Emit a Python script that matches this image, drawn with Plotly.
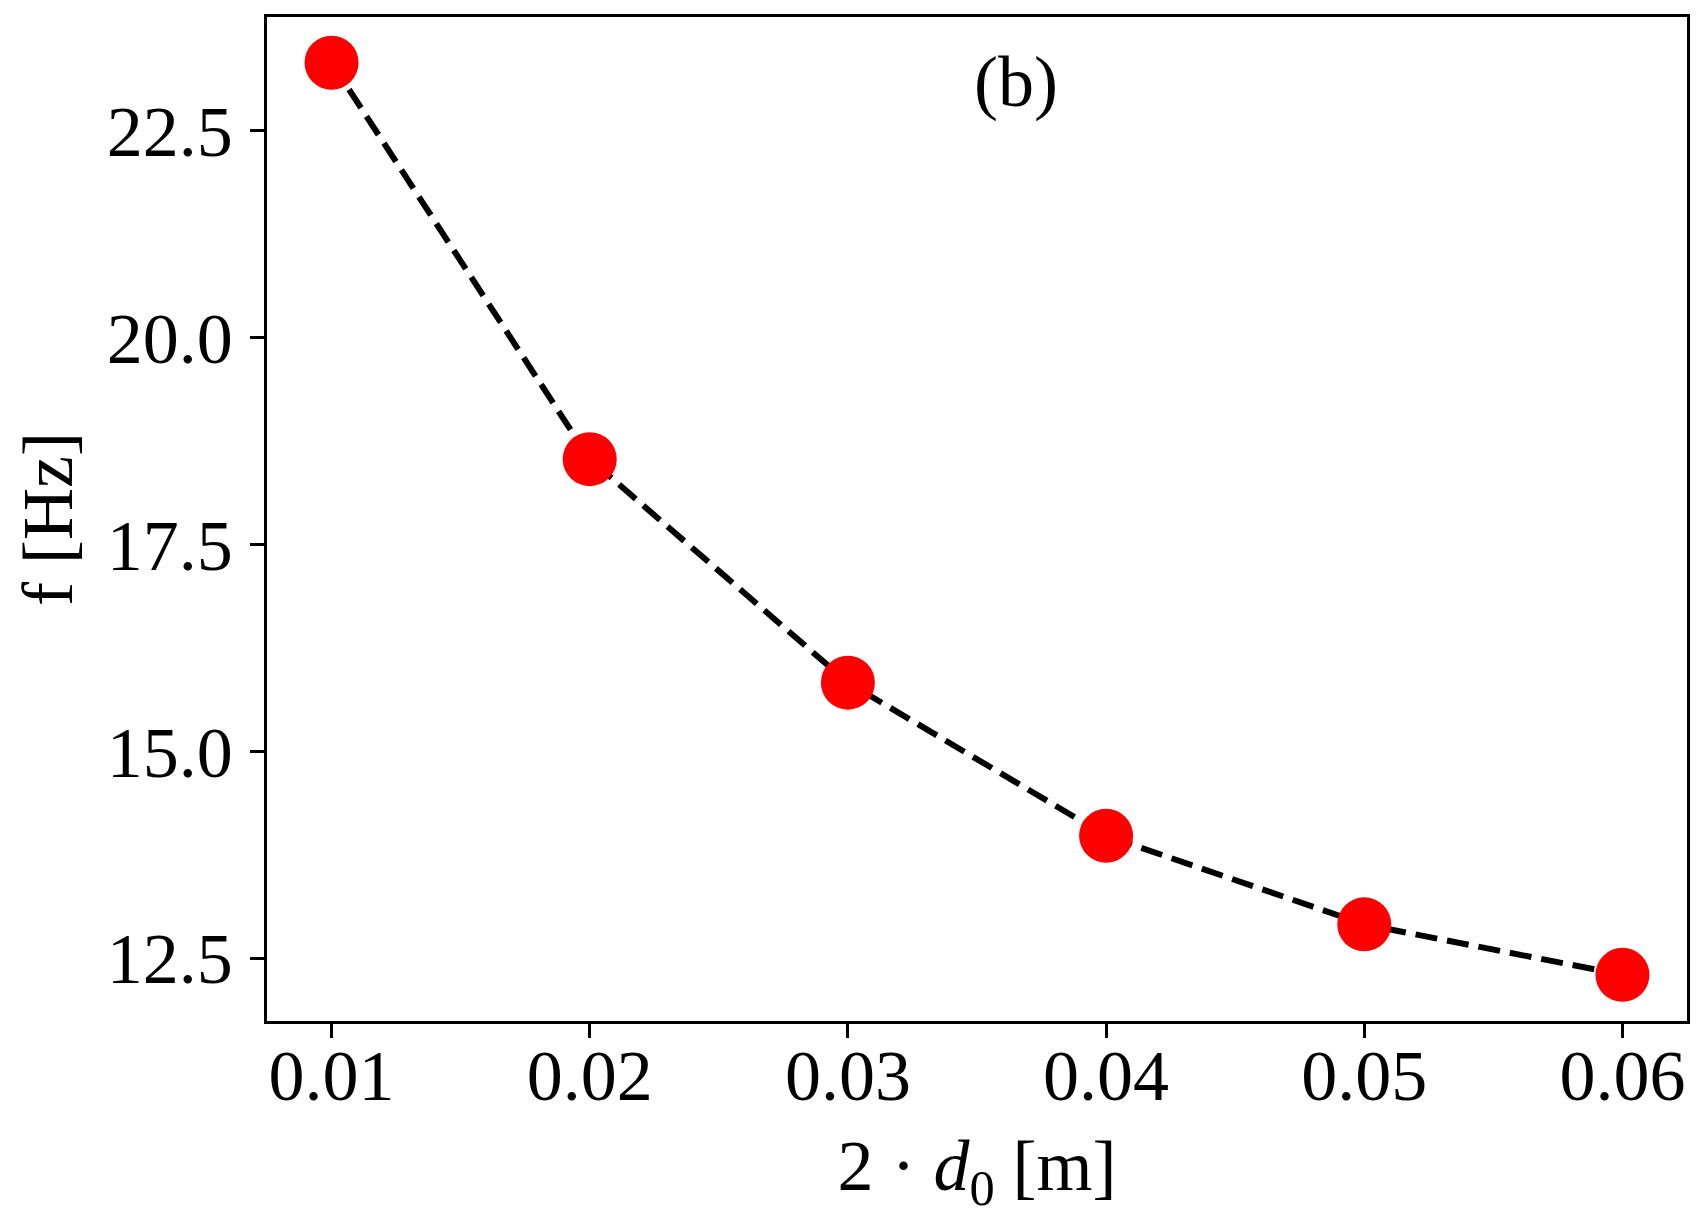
import plotly.graph_objects as go

x_vals = [0.01, 0.02, 0.03, 0.04, 0.05, 0.06]
f_vals = [23.32, 18.53, 15.83, 13.98, 12.91, 12.30]
x_ticks = [0.01, 0.02, 0.03, 0.04, 0.05, 0.06]
x_ticktext = ["0.01", "0.02", "0.03", "0.04", "0.05", "0.06"]
y_ticks = [12.5, 15.0, 17.5, 20.0, 22.5]
y_ticktext = ["12.5", "15.0", "17.5", "20.0", "22.5"]

FONT = "Liberation Serif"
FS = 72

fig = go.Figure()
fig.add_trace(go.Scatter(
    x=x_vals, y=f_vals, mode="lines",
    line=dict(color="black", width=6, dash="22px,10px"),
    showlegend=False,
))
fig.add_trace(go.Scatter(
    x=x_vals, y=f_vals, mode="markers",
    marker=dict(color="#ff0000", size=54, line=dict(width=0)),
    showlegend=False,
))

axis_common = dict(
    showgrid=False, zeroline=False, showline=True, linecolor="black",
    linewidth=2.7, mirror=True, ticks="outside", ticklen=14, tickwidth=2.7,
    tickcolor="black", tickfont=dict(family=FONT, size=FS, color="black"),
)

fig.update_layout(
    width=1702, height=1232,
    margin=dict(l=259, r=23, t=6, b=219),
    paper_bgcolor="white", plot_bgcolor="white",
    xaxis=dict(range=[0.0075, 0.0625], tickvals=x_ticks, ticktext=x_ticktext,
               title=dict(text="2 · <i>d</i><sub>0</sub> [m]",
                          font=dict(family=FONT, size=FS, color="black"),
                          standoff=25),
               ticklabelstandoff=-24,
               **axis_common),
    yaxis=dict(range=[11.742, 23.872], tickvals=y_ticks, ticktext=y_ticktext,
               title=dict(text="f [Hz]",
                          font=dict(family=FONT, size=FS, color="black"),
                          standoff=23),
               ticklabelstandoff=3,
               **axis_common),
    annotations=[dict(
        x=0.0365, y=0.9355, xref="x", yref="paper", text="(b)",
        showarrow=False, font=dict(family=FONT, size=FS, color="black"),
        xanchor="center", yanchor="middle",
    )],
)

fig.write_html("out.html")
